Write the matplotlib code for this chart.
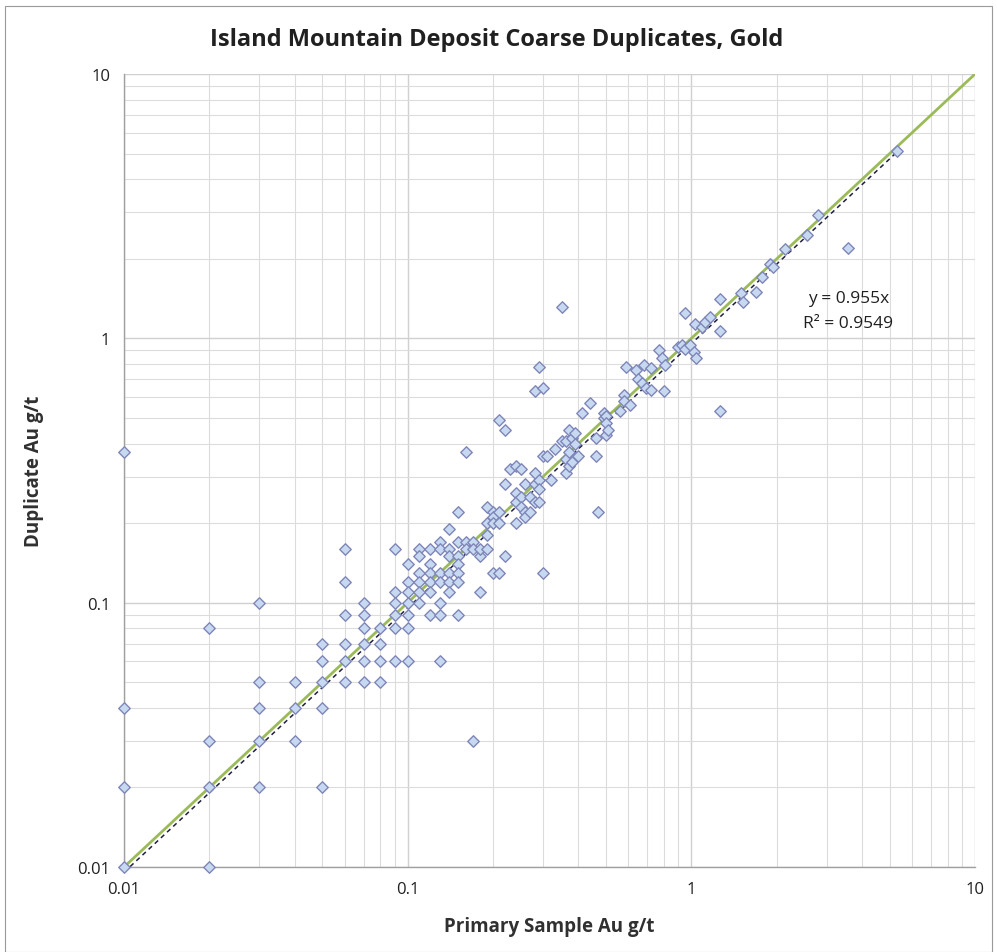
import matplotlib
matplotlib.use("Agg")
import matplotlib.pyplot as plt
from matplotlib.ticker import FixedLocator, LogLocator, NullFormatter
from matplotlib.patches import Rectangle

# primary vs duplicate Au (g/t)
primary = [
    0.01, 0.01, 0.01, 0.01,
    0.02, 0.02, 0.02, 0.02,
    0.03, 0.03, 0.03, 0.03, 0.03,
    0.04, 0.04, 0.04,
    0.05, 0.05, 0.05, 0.05, 0.05,
    0.06, 0.06, 0.06, 0.06, 0.06, 0.06,
    0.07, 0.07, 0.07, 0.07, 0.07, 0.07,
    0.08, 0.08, 0.08, 0.08,
    0.09, 0.09, 0.09, 0.09, 0.09, 0.09,
    0.10, 0.10, 0.10, 0.10, 0.10, 0.10, 0.10,
    0.11, 0.11, 0.11, 0.11, 0.11, 0.11,
    0.12, 0.12, 0.12, 0.12, 0.12, 0.12,
    0.13, 0.13, 0.13, 0.13, 0.13, 0.13, 0.13,
    0.14, 0.14, 0.14, 0.14, 0.14, 0.14,
    0.15, 0.15, 0.15, 0.15, 0.15, 0.15, 0.15,
    0.16, 0.16, 0.16,
    0.17, 0.17, 0.17,
    0.18, 0.18, 0.18,
    0.19, 0.19, 0.19, 0.19,
    0.20, 0.20, 0.20, 0.20,
    0.21, 0.21, 0.21, 0.21,
    0.22, 0.22, 0.22,
    0.23,
    0.24, 0.24, 0.24, 0.24,
    0.25, 0.25, 0.25,
    0.26, 0.26, 0.26,
    0.27, 0.27,
    0.28, 0.28, 0.28, 0.28,
    0.29, 0.29, 0.29, 0.29,
    0.30, 0.30, 0.30,
    0.31, 0.32, 0.33,
    0.35, 0.35,
    0.36, 0.36, 0.36,
    0.37, 0.37, 0.37,
    0.38, 0.38,
    0.39, 0.39,
    0.40, 0.41, 0.44,
    0.46, 0.46, 0.47,
    0.49, 0.49,
    0.50, 0.50, 0.50, 0.51,
    0.56, 0.58, 0.58, 0.59, 0.61,
    0.64, 0.65, 0.67, 0.68, 0.69,
    0.72, 0.72, 0.77, 0.79, 0.80, 0.81,
    0.90, 0.93, 0.95, 0.95, 0.99,
    1.02, 1.04, 1.03, 1.09, 1.12, 1.16,
    1.26, 1.26, 1.26,
    1.50, 1.52, 1.69, 1.77, 1.90, 1.94,
    2.14, 2.56, 2.80, 3.57, 5.30,
]
duplicate = [
    0.37, 0.04, 0.02, 0.01,
    0.08, 0.03, 0.02, 0.01,
    0.10, 0.05, 0.04, 0.03, 0.02,
    0.05, 0.04, 0.03,
    0.07, 0.06, 0.05, 0.04, 0.02,
    0.16, 0.12, 0.09, 0.07, 0.06, 0.05,
    0.10, 0.09, 0.08, 0.07, 0.06, 0.05,
    0.08, 0.07, 0.06, 0.05,
    0.16, 0.11, 0.10, 0.09, 0.08, 0.06,
    0.14, 0.12, 0.11, 0.10, 0.09, 0.08, 0.06,
    0.16, 0.15, 0.13, 0.12, 0.11, 0.10,
    0.16, 0.14, 0.13, 0.12, 0.11, 0.09,
    0.17, 0.16, 0.13, 0.12, 0.10, 0.09, 0.06,
    0.19, 0.16, 0.15, 0.13, 0.12, 0.11,
    0.22, 0.17, 0.15, 0.14, 0.13, 0.12, 0.09,
    0.37, 0.17, 0.16,
    0.17, 0.16, 0.03,
    0.15, 0.11, 0.16,
    0.23, 0.20, 0.18, 0.16,
    0.22, 0.21, 0.20, 0.13,
    0.49, 0.22, 0.20, 0.13,
    0.45, 0.28, 0.15,
    0.32,
    0.33, 0.26, 0.24, 0.20,
    0.32, 0.25, 0.23,
    0.28, 0.22, 0.21,
    0.25, 0.22,
    0.63, 0.31, 0.28, 0.24,
    0.78, 0.29, 0.27, 0.24,
    0.65, 0.36, 0.13,
    0.36, 0.29, 0.38,
    1.31, 0.41,
    0.41, 0.35, 0.31,
    0.45, 0.37, 0.33,
    0.42, 0.34,
    0.44, 0.40,
    0.36, 0.52, 0.57,
    0.42, 0.36, 0.22,
    0.52, 0.50,
    0.51, 0.48, 0.43, 0.45,
    0.53, 0.61, 0.58, 0.78, 0.56,
    0.76, 0.70, 0.68, 0.79, 0.65,
    0.77, 0.64, 0.90, 0.84, 0.63, 0.79,
    0.93, 0.94, 1.25, 0.91, 0.94,
    0.89, 0.84, 1.13, 1.10, 1.15, 1.20,
    1.41, 1.07, 0.53,
    1.48, 1.37, 1.50, 1.70, 1.91, 1.86,
    2.17, 2.45, 2.93, 2.19, 5.13,
]

slope = 0.955
r_squared = 0.9549
axis_ticks = [0.01, 0.1, 1, 10]
axis_labels = ["0.01", "0.1", "1", "10"]

plt.rcParams["font.family"] = ["Open Sans", "DejaVu Sans"]

fig = plt.figure(figsize=(9.97, 9.53), dpi=100)
ax = fig.add_axes([0.1244, 0.0892, 0.8536, 0.8321])

ax.set_xscale("log")
ax.set_yscale("log")
ax.set_xlim(0.01, 10)
ax.set_ylim(0.01, 10)

ax.xaxis.set_major_locator(FixedLocator(axis_ticks))
ax.yaxis.set_major_locator(FixedLocator(axis_ticks))
ax.set_xticklabels(axis_labels)
ax.set_yticklabels(axis_labels)
ax.xaxis.set_minor_locator(LogLocator(base=10, subs=range(2, 10)))
ax.yaxis.set_minor_locator(LogLocator(base=10, subs=range(2, 10)))
ax.xaxis.set_minor_formatter(NullFormatter())
ax.yaxis.set_minor_formatter(NullFormatter())

ax.grid(which="major", color="#D0D0D0", linewidth=1.0)
ax.grid(which="minor", color="#DCDCDC", linewidth=0.8)
ax.set_axisbelow(True)
ax.tick_params(which="both", length=0, labelsize=12, colors="#202020", pad=10)

for side in ["top", "right"]:
    ax.spines[side].set_visible(False)
for side in ["left", "bottom"]:
    ax.spines[side].set_color("#A0A0A0")
    ax.spines[side].set_linewidth(1.0)

# 1:1 line and regression through origin
ax.plot([0.01, 10], [0.01, 10], color="#9BBB59", linewidth=2.0, zorder=2)
ax.plot([0.01, max(primary)], [0.01 * slope, max(primary) * slope],
        color="#1F1F3F", linewidth=1.1, linestyle=(0, (3, 2.5)), zorder=3)

ax.scatter(primary, duplicate, marker="D", s=34, facecolor="#C6D9F1",
           edgecolor="#7F86B8", linewidth=1.0, zorder=4, clip_on=False)

ax.text(0.851, 0.718, f"y = {slope}x", transform=ax.transAxes,
        fontsize=12.5, ha="center", va="center", color="#202020")
ax.text(0.851, 0.686, f"R² = {r_squared}", transform=ax.transAxes,
        fontsize=12.5, ha="center", va="center", color="#202020")

fig.text(0.498, 0.958, "Island Mountain Deposit Coarse Duplicates, Gold",
         ha="center", va="center", fontsize=17, fontweight="bold", color="#202020")
ax.set_xlabel("Primary Sample Au g/t", fontsize=13.5, fontweight="bold",
              color="#303030", labelpad=14)
ax.set_ylabel("Duplicate Au g/t", fontsize=13.5, fontweight="bold",
              color="#303030", labelpad=24)

fig.patches.append(Rectangle((0.005, 0.0), 0.99, 0.993, transform=fig.transFigure,
                             fill=False, edgecolor="#9A9A9A", linewidth=0.8))

fig.savefig("out.png", dpi=100)
